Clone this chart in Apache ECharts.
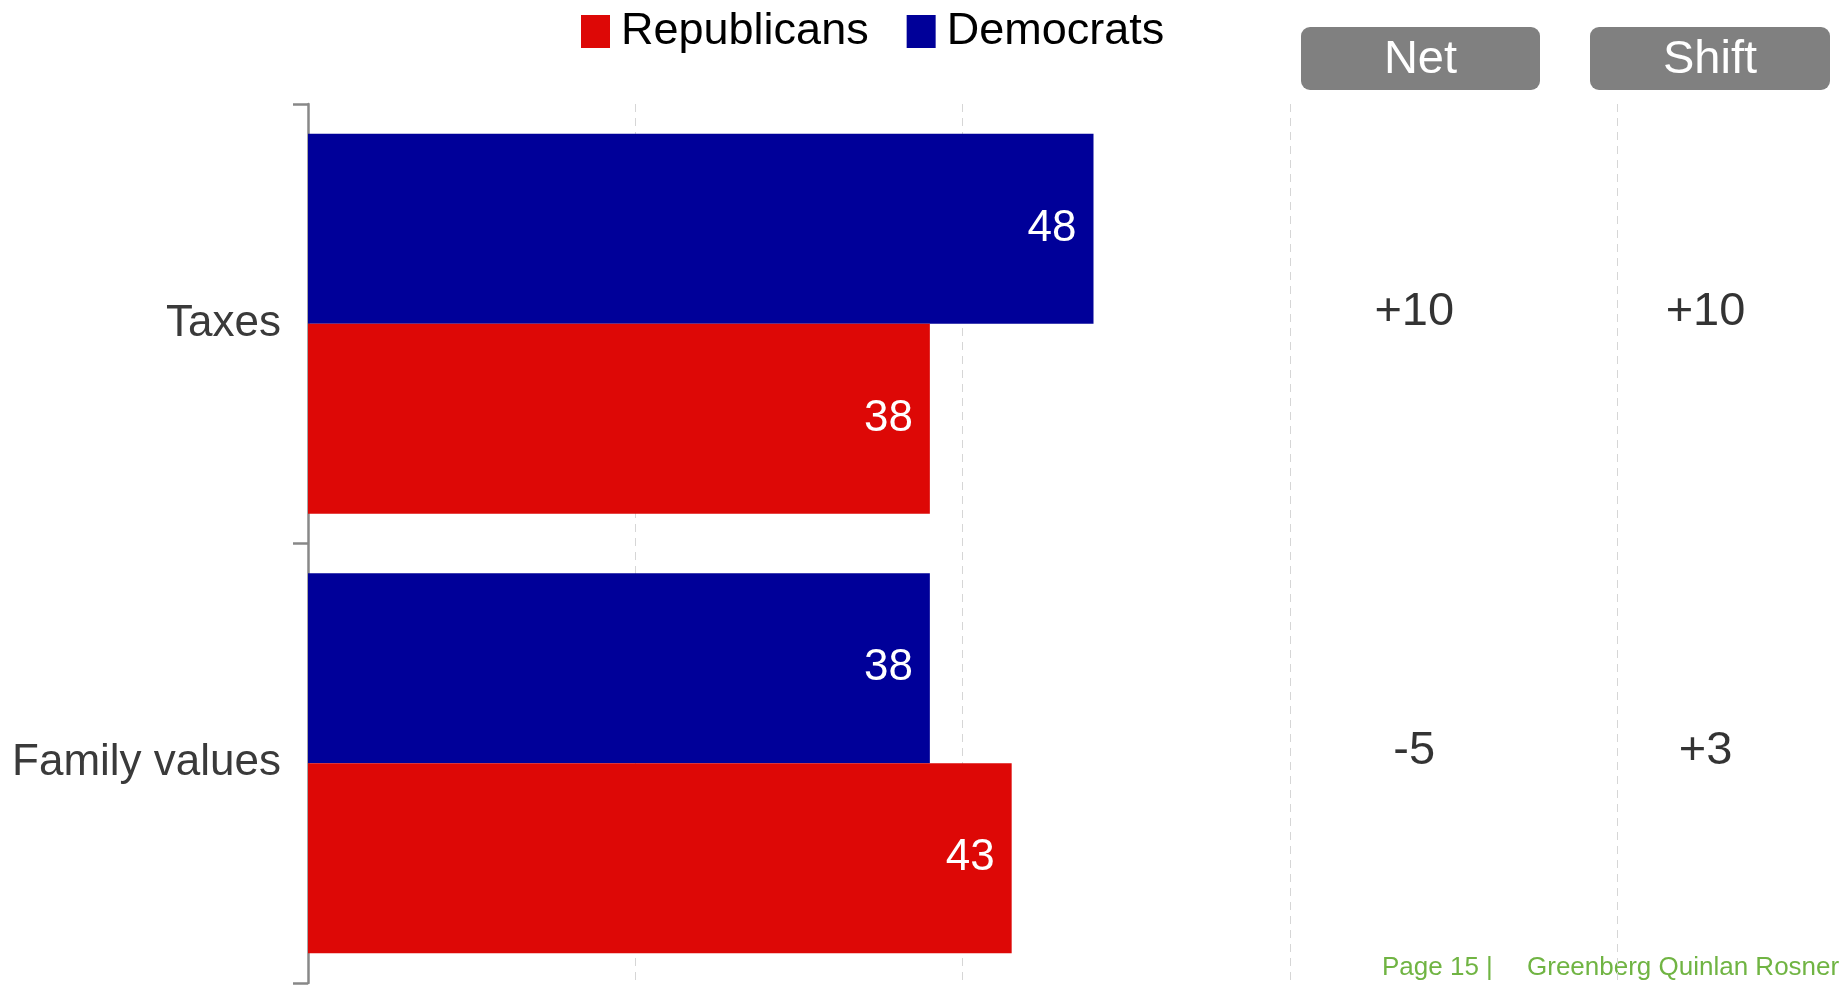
<!DOCTYPE html>
<html>
<head>
<meta charset="utf-8">
<script src="https://cdn.jsdelivr.net/npm/echarts@6/dist/echarts.min.js"></script>
<style>
html,body{margin:0;padding:0;background:#fff;}
#chart{width:1843px;height:985px;}
</style>
</head>
<body>
<div id="chart"></div>
<script>
const categories = ['Taxes', 'Family values'];
const republicans = [38, 43];
const democrats = [48, 38];
const netLabels = ['+10', '-5'];
const shiftLabels = ['+10', '+3'];
const columnHeaders = ['Net', 'Shift'];
const footerPage = 'Page 15 |';
const footerFirm = 'Greenberg Quinlan Rosner';

const NET_X = 67.6;
const SHIFT_X = 85.4;
const FONT = '"Liberation Sans", Arial, sans-serif';

const chart = echarts.init(document.getElementById('chart'));

function textColumn(name, xPos, labels) {
  return {
    name: name,
    type: 'scatter',
    symbolSize: 1,
    itemStyle: { color: 'rgba(0,0,0,0)' },
    silent: true,
    z: 5,
    data: categories.map((c, i) => ({ value: [xPos, c], labelText: labels[i] })),
    label: {
      show: true,
      position: 'inside',
      offset: [0, -12],
      formatter: p => p.data.labelText,
      color: '#000',
      fontSize: 47,
      fontFamily: FONT
    }
  };
}

function headerBox(x, w, text) {
  return {
    type: 'group',
    left: x,
    top: 27,
    children: [
      { type: 'rect', shape: { x: 0, y: 0, width: w, height: 63, r: 9 }, style: { fill: '#808080' } },
      { type: 'text', x: w / 2, y: 33, style: { text: text, fill: '#fff', fontSize: 47, fontFamily: FONT, align: 'center', verticalAlign: 'middle' } }
    ]
  };
}

chart.setOption({
  animation: false,
  backgroundColor: '#fff',
  legend: {
    data: ['Republicans', 'Democrats'],
    left: 576,
    top: 4,
    icon: 'rect',
    itemWidth: 29,
    itemHeight: 33,
    itemGap: 38,
    textStyle: { fontSize: 45, color: '#000', fontFamily: FONT, padding: [0, 0, 0, 6] }
  },
  grid: { left: 308, top: 104, bottom: 2, right: 0, containLabel: false },
  xAxis: {
    type: 'value',
    min: 0,
    max: 93.8,
    interval: 20,
    axisLine: { show: false },
    axisTick: { show: false },
    axisLabel: { show: false },
    splitLine: { show: true, showMaxLine: false, lineStyle: { color: '#d6d6d6', type: [8, 6], width: 1 } }
  },
  yAxis: {
    type: 'category',
    data: categories,
    inverse: true,
    axisLine: { show: true, lineStyle: { color: '#888', width: 2.5 } },
    axisTick: { show: true, length: 15, lineStyle: { color: '#888', width: 2.5 } },
    axisLabel: { fontSize: 44, color: '#3a3a3a', fontFamily: FONT, margin: 27 },
    splitLine: { show: false }
  },
  series: [
    {
      name: 'Democrats',
      type: 'bar',
      data: democrats,
      barGap: '0%',
      barCategoryGap: '13.5%',
      itemStyle: { color: '#000099' },
      label: { show: true, position: 'insideRight', distance: 17, color: '#fff', fontSize: 44, fontFamily: FONT }
    },
    {
      name: 'Republicans',
      type: 'bar',
      data: republicans,
      barGap: '0%',
      barCategoryGap: '13.5%',
      itemStyle: { color: '#DD0806' },
      label: { show: true, position: 'insideRight', distance: 17, color: '#fff', fontSize: 44, fontFamily: FONT }
    },
    textColumn('Net', NET_X, netLabels),
    textColumn('Shift', SHIFT_X, shiftLabels)
  ],
  graphic: [
    headerBox(1301, 239, columnHeaders[0]),
    headerBox(1590, 240, columnHeaders[1]),
    { type: 'text', left: 1382, top: 955, style: { text: footerPage, fill: '#70B443', fontSize: 26, fontFamily: FONT } },
    { type: 'text', left: 1527, top: 955, style: { text: footerFirm, fill: '#70B443', fontSize: 26, fontFamily: FONT } }
  ]
});
</script>
</body>
</html>
